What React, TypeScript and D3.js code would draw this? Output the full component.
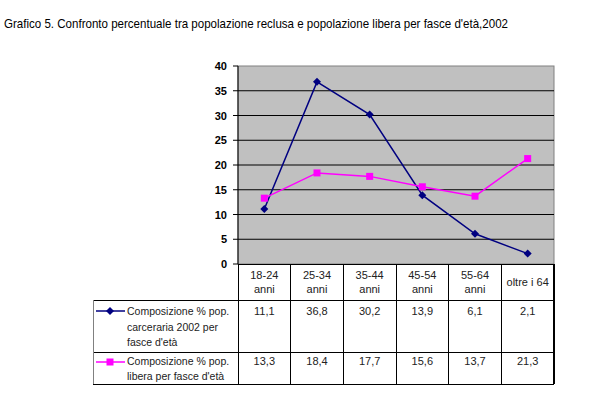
import React from "react";
import * as d3 from "d3";

const categories = ["18-24 anni", "25-34 anni", "35-44 anni", "45-54 anni", "55-64 anni", "oltre i 64"];
const headerLines = [["18-24", "anni"], ["25-34", "anni"], ["35-44", "anni"], ["45-54", "anni"], ["55-64", "anni"], ["oltre i 64"]];
const carcerariaValues = [11.1, 36.8, 30.2, 13.9, 6.1, 2.1];
const liberaValues = [13.3, 18.4, 17.7, 15.6, 13.7, 21.3];
const yTicks = [0, 5, 10, 15, 20, 25, 30, 35, 40];
const seriesLabels = [
  ["Composizione % pop.", "carceraria 2002 per", "fasce d'età"],
  ["Composizione %  pop.", "libera per fasce d'età"],
];

const fmt = (v: number) => v.toFixed(1).replace(".", ",");

export default function App() {
  const W = 600, H = 396;
  const left = 238, right = 554, top = 66, bottom = 264;
  const tableLeft = 93;
  const rowLines = [264, 300, 352, 384];

  const x = d3.scaleBand().domain(categories).range([left, right]);
  const y = d3.scaleLinear().domain([0, 40]).range([bottom, top]);
  const cx = (c: string) => (x(c) as number) + x.bandwidth() / 2;

  const lineGen = (vals: number[]) =>
    d3.line<number>().x((_, i) => cx(categories[i])).y(d => y(d))(vals) as string;

  const navy = "#000080";
  const magenta = "#FF00FF";
  const font = "Liberation Sans, Arial, sans-serif";

  const diamond = (px: number, py: number, key: string | number) => (
    <path key={key} d={`M${px},${py - 4}L${px + 4},${py}L${px},${py + 4}L${px - 4},${py}Z`} fill={navy} />
  );
  const square = (px: number, py: number, key: string | number) => (
    <rect key={key} x={px - 3.5} y={py - 3.5} width={7} height={7} fill={magenta} />
  );

  return (
    <div style={{ position: "absolute", left: 0, top: 0 }}>
      <svg width={W} height={H} style={{ display: "block", background: "#fff" }} fontFamily={font}>
        <text x={4} y={28} fontSize={13.5} textLength={504} lengthAdjust="spacingAndGlyphs" fill="#000">
          Grafico 5. Confronto percentuale tra popolazione reclusa e popolazione libera per fasce d'età,2002
        </text>

        {/* plot area */}
        <rect x={left} y={top} width={right - left} height={bottom - top} fill="#C0C0C0" stroke="#808080" />
        {yTicks.filter(t => t > 0 && t < 40).map(t => (
          <line key={t} x1={left} x2={right} y1={y(t)} y2={y(t)} stroke="#000" />
        ))}
        <line x1={left} x2={left} y1={top} y2={bottom} stroke="#000" />
        {yTicks.map(t => (
          <g key={t}>
            <line x1={left - 5} x2={left} y1={y(t)} y2={y(t)} stroke="#000" />
            <text x={227} y={y(t) + 4} textAnchor="end" fontSize={11} fontWeight="bold">{t}</text>
          </g>
        ))}

        <path d={lineGen(carcerariaValues)} fill="none" stroke={navy} strokeWidth={1.5} />
        <path d={lineGen(liberaValues)} fill="none" stroke={magenta} strokeWidth={1.5} />
        {carcerariaValues.map((v, i) => diamond(cx(categories[i]), y(v), i))}
        {liberaValues.map((v, i) => square(cx(categories[i]), y(v), i))}

        {/* data table */}
        <g fontSize={11} fill="#222">
          {headerLines.map((ls, i) => {
            const c = cx(categories[i]);
            const y0 = ls.length === 2 ? 279 : 286;
            return ls.map((l, j) => (
              <text key={`${i}-${j}`} x={c} y={y0 + j * 14} textAnchor="middle">{l}</text>
            ));
          })}
          {carcerariaValues.map((v, i) => (
            <text key={`c${i}`} x={cx(categories[i])} y={315} textAnchor="middle">{fmt(v)}</text>
          ))}
          {liberaValues.map((v, i) => (
            <text key={`l${i}`} x={cx(categories[i])} y={365} textAnchor="middle">{fmt(v)}</text>
          ))}
          {seriesLabels[0].map((l, j) => (
            <text key={`s0${j}`} x={127} y={315 + j * 15.5} fontSize={10.5}>{l}</text>
          ))}
          {seriesLabels[1].map((l, j) => (
            <text key={`s1${j}`} x={127} y={365 + j * 15} fontSize={10.5}>{l}</text>
          ))}
        </g>
        <line x1={96} x2={125} y1={311} y2={311} stroke={navy} strokeWidth={1.5} />
        {diamond(110, 311, "ld")}
        <line x1={96} x2={125} y1={362} y2={362} stroke={magenta} strokeWidth={1.5} />
        {square(110, 362, "ls")}

        {/* table grid */}
        <g stroke="#000" shapeRendering="crispEdges">
          <line x1={left} x2={right} y1={rowLines[0]} y2={rowLines[0]} />
          {rowLines.slice(1).map(r => (
            <line key={r} x1={tableLeft} x2={right} y1={r} y2={r} />
          ))}
          {categories.map(c => (
            <line key={c} x1={x(c) as number} x2={x(c) as number} y1={rowLines[0]} y2={rowLines[3]} />
          ))}
          <line x1={right} x2={right} y1={rowLines[0]} y2={rowLines[3]} strokeWidth={1.5} />
          <line x1={tableLeft} x2={tableLeft} y1={rowLines[1]} y2={rowLines[3]} stroke="#808080" />
        </g>
      </svg>
    </div>
  );
}
